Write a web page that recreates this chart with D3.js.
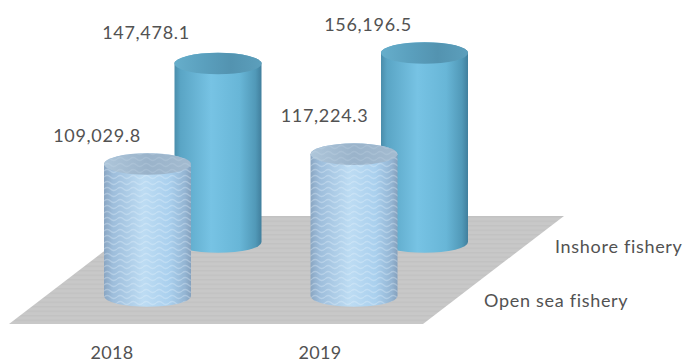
<!DOCTYPE html>
<html>
<head>
<meta charset="utf-8">
<script src="https://cdn.jsdelivr.net/npm/d3@7"></script>
<style>
  html, body { margin: 0; padding: 0; background: #fff; }
  svg { display: block; }
  text { font-family: Lato, "Open Sans", sans-serif; fill: #525252; letter-spacing: 0.7px; font-weight: 400; }
  text.year { letter-spacing: 0.3px; }
</style>
</head>
<body>
<div id="chart"></div>
<script>
const years = ["2018", "2019"];
const seriesNames = ["Inshore fishery", "Open sea fishery"];
const inshoreValues = [147478.1, 156196.5];
const openSeaValues = [109029.8, 117224.3];

const width = 686, height = 362;
const svg = d3.select("#chart").append("svg").attr("width", width).attr("height", height);
const defs = svg.append("defs");

// Oblique floor: category axis runs along x, series axis recedes up and to the right.
const xCat = d3.scalePoint().domain(years).range([147.5, 354]);
const depthX = d3.scalePoint().domain(seriesNames).range([70.5, 0]);
const depthY = d3.scalePoint().domain(seriesNames).range([242, 296]);
const heightScale = d3.scaleLinear().domain([0, 160000]).range([0, 193.6]);
const rx = 43.5, ry = 10.8;

const floorCorners = [[9, 324], [423, 324], [564, 216], [150, 216]];

function bodyGradient(id, stops) {
  const g = defs.append("linearGradient").attr("id", id).attr("x1", 0).attr("x2", 1).attr("y1", 0).attr("y2", 0);
  stops.forEach(([o, c]) => g.append("stop").attr("offset", o).attr("stop-color", c));
}
bodyGradient("inshoreBody", [[0, "#4a8dab"], [0.07, "#5aa5c5"], [0.42, "#77c3e4"], [0.75, "#68b6d7"], [0.93, "#5199b8"], [1, "#417f9d"]]);
bodyGradient("inshoreTop", [[0, "#66aecb"], [0.35, "#5a9fbd"], [0.65, "#5393b0"], [1, "#5c9fbc"]]);
bodyGradient("openBody", [[0, "#8aa6c2"], [0.1, "#9dbddb"], [0.45, "#bddcf3"], [0.75, "#aad0ee"], [0.93, "#94b5d3"], [1, "#85a1bd"]]);
bodyGradient("openTop", [[0, "#aec6da"], [0.5, "#9ab3ca"], [1, "#a3bbd0"]]);

// Soft ripple texture laid over the open sea cylinders.
const wave = defs.append("pattern").attr("id", "ripple").attr("patternUnits", "userSpaceOnUse")
  .attr("width", 13).attr("height", 6);
wave.append("path")
  .attr("d", "M0,3 Q3.25,0 6.5,3 T13,3")
  .attr("fill", "none").attr("stroke", "#e6f4fd").attr("stroke-width", 1.3).attr("stroke-opacity", 0.32);

const bands = defs.append("pattern").attr("id", "floorLines").attr("patternUnits", "userSpaceOnUse")
  .attr("width", 8).attr("height", 4.5);
bands.append("rect").attr("width", 8).attr("height", 4.5).attr("fill", "#c8c8c8");
bands.append("rect").attr("width", 8).attr("height", 1.5).attr("fill", "#c2c2c2");

svg.append("polygon")
  .attr("points", floorCorners.map(p => p.join(",")).join(" "))
  .attr("fill", "url(#floorLines)");

function cylinderPath(cx, base, h) {
  const x0 = cx - rx, x1 = cx + rx, top = base - h;
  return `M${x0},${top} L${x0},${base} A${rx},${ry} 0 0 0 ${x1},${base} L${x1},${top} A${rx},${ry} 0 0 0 ${x0},${top} Z`;
}

function drawSeries(name, values, bodyId, topId, rippled) {
  const g = svg.append("g").attr("class", "series");
  const cyl = g.selectAll("g").data(years.map((y, i) => ({ year: y, value: values[i] }))).join("g");
  const cx = d => xCat(d.year) + depthX(name);
  const base = depthY(name);
  cyl.append("path").attr("d", d => cylinderPath(cx(d), base, heightScale(d.value))).attr("fill", `url(#${bodyId})`);
  if (rippled) {
    cyl.append("path").attr("d", d => cylinderPath(cx(d), base, heightScale(d.value))).attr("fill", "url(#ripple)");
  }
  cyl.append("ellipse")
    .attr("cx", cx).attr("cy", d => base - heightScale(d.value))
    .attr("rx", rx).attr("ry", ry).attr("fill", `url(#${topId})`);
  if (rippled) {
    cyl.append("ellipse")
      .attr("cx", cx).attr("cy", d => base - heightScale(d.value))
      .attr("rx", rx).attr("ry", ry).attr("fill", "url(#ripple)").attr("opacity", 0.45);
  }
}

drawSeries(seriesNames[0], inshoreValues, "inshoreBody", "inshoreTop", false);
drawSeries(seriesNames[1], openSeaValues, "openBody", "openTop", true);

const fmt = d3.format(",.1f");
const valueLabels = [
  { v: inshoreValues[0], x: 146, y: 39 },
  { v: inshoreValues[1], x: 368, y: 31 },
  { v: openSeaValues[0], x: 97, y: 142 },
  { v: openSeaValues[1], x: 324.5, y: 121.5 }
];
svg.selectAll("text.value").data(valueLabels).join("text").attr("class", "value")
  .attr("x", d => d.x).attr("y", d => d.y).attr("text-anchor", "middle")
  .attr("font-size", 18).text(d => fmt(d.v));

const yearLabelX = [112, 320];
svg.selectAll("text.year").data(years).join("text").attr("class", "year")
  .attr("x", (d, i) => yearLabelX[i]).attr("y", 359).attr("text-anchor", "middle")
  .attr("font-size", 18).text(d => d);

const seriesLabelPos = [[555, 253], [484, 307]];
svg.selectAll("text.series-name").data(seriesNames).join("text").attr("class", "series-name")
  .attr("x", (d, i) => seriesLabelPos[i][0]).attr("y", (d, i) => seriesLabelPos[i][1])
  .attr("font-size", 18).text(d => d);
</script>
</body>
</html>
